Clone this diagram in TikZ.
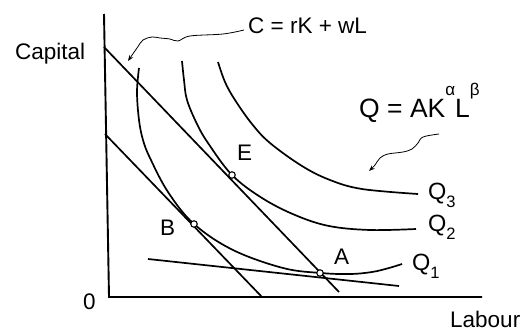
\documentclass[tikz,border=0pt]{standalone}
\usepackage{fontspec}
\setmainfont{Liberation Sans}
\usetikzlibrary{arrows.meta}
\begin{document}
\begin{tikzpicture}[x=1pt,y=-1pt,
  axisline/.style={line width=1.9pt, line join=miter},
  budget/.style={line width=1.7pt},
  isoq/.style={line width=1.7pt},
  wiggle/.style={line width=0.8pt, -{Stealth[length=6pt,width=4.5pt]}},
  dotmark/.style={circle, draw, fill=white, line width=1.1pt, minimum size=6.5pt, inner sep=0pt},
  lbl/.style={font=\fontsize{22.5}{26}\selectfont, inner sep=0pt, anchor=base west},
  qlbl/.style={font=\fontsize{23.5}{26}\selectfont, inner sep=0pt, anchor=base west}]
\useasboundingbox (0,0) rectangle (524,332);

% axes
\coordinate (ytop) at (104,14);
\coordinate (orig) at (109,297);
\coordinate (xend) at (482,297);
\draw[axisline] (ytop) -- (orig) -- (xend);

% budget lines
\coordinate (b1s) at (104,47);
\coordinate (b1e) at (339,292);
\draw[budget] (b1s) -- (b1e);
\coordinate (b2s) at (105,134);
\coordinate (b2e) at (262,297);
\draw[budget] (b2s) -- (b2e);
\coordinate (b3s) at (148,259);
\coordinate (b3e) at (399,286);
\draw[budget] (b3s) -- (b3e);

% isoquants
\draw[isoq] plot[smooth, tension=0.6] coordinates {(139,68) (137,92) (139,120) (143,140) (150,158) (168,192) (194,224) (233,250) (283,268) (321,273) (350,274) (372,272) (389,268) (402,264)};
\draw[isoq] plot[smooth, tension=0.6] coordinates {(182,61) (184,80) (187,100) (197,124) (208,143) (232,175) (262,198) (295,215) (329,226) (370,230) (416,229)};
\draw[isoq] plot[smooth, tension=0.6] coordinates {(218,62) (225,82) (235,100) (252,124) (270,143) (302,166) (330,180) (362,189) (418,194)};

% points
\node[dotmark] (E) at (232,175) {};
\node[dotmark] (B) at (194,224) {};
\node[dotmark] (A) at (320,273) {};

% labels
\node[lbl] (cap) at (15,59) {Capital};
\node[lbl] (lab) at (450,327.5) {Labour};
\node[lbl] (zero) at (83,309) {0};
\node[lbl] (Elbl) at (237,160) {E};
\node[lbl] (Blbl) at (160,235) {B};
\node[lbl] (Albl) at (334,264) {A};
\node[lbl] (ceq) at (248,33) {C = rK + wL};
\node[inner sep=0pt, anchor=base west, font=\fontsize{26.5}{30}\selectfont] (qeq) at (359,117)
  {Q = AK\raisebox{22pt}{\fontsize{17}{17}\selectfont α}L\raisebox{22pt}{\fontsize{17}{17}\selectfont β}};
\node[qlbl] (q3) at (428,199) {Q\raisebox{-8.5pt}{\fontsize{16.5}{17}\selectfont 3}};
\node[qlbl] (q2) at (428,231) {Q\raisebox{-8.5pt}{\fontsize{16.5}{17}\selectfont 2}};
\node[qlbl] (q1) at (412,270) {Q\raisebox{-8.5pt}{\fontsize{16.5}{17}\selectfont 1}};

% wiggly pointers
\coordinate (w1s) at (244,30);
\coordinate (w1e) at (128,61);
\draw[wiggle] plot[smooth, tension=0.6] coordinates {(w1s) (223,34) (190,36) (178,41) (170,39) (160,38) (152,37) (143,40) (137,48) (w1e)};
\coordinate (w2s) at (439,134);
\coordinate (w2e) at (369,171);
\draw[wiggle] plot[smooth, tension=0.6] coordinates {(w2s) (423,137) (418,143) (412,149) (403,152) (388,154) (380,158) (375,165) (w2e)};
\end{tikzpicture}
\end{document}
